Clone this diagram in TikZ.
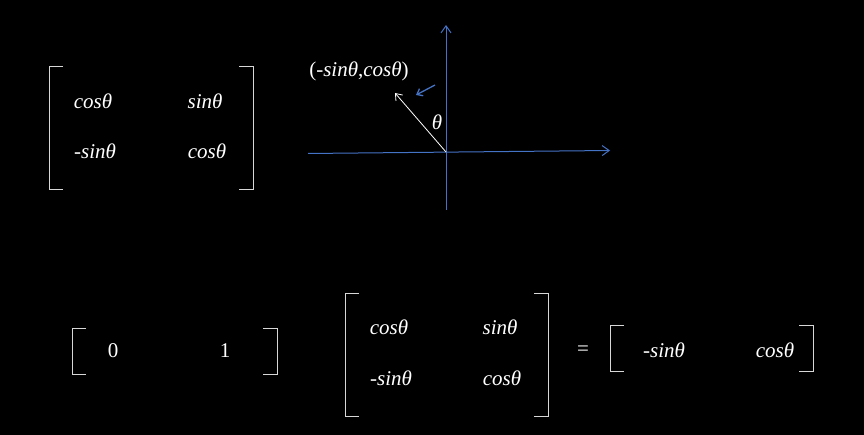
\documentclass[tikz,border=0pt]{standalone}
\usepackage{fontspec}
\setmainfont{Liberation Serif}
\usetikzlibrary{arrows.meta,positioning,calc}
\definecolor{axisblue}{RGB}{68,114,196}
\definecolor{brackgray}{RGB}{215,215,215}

\begin{document}
\begin{tikzpicture}[x=1pt, y=-1pt,
    entry/.style={white, inner sep=0pt, font=\fontsize{21}{24}\selectfont\itshape},
    num/.style={white, inner sep=0pt, font=\fontsize{21}{24}\selectfont},
    brack/.style={brackgray, line width=1pt},
    axis/.style={axisblue, line width=1pt, -{Straight Barb[length=7pt,width=10pt]}},
    vec/.style={white, line width=0.8pt, -{Straight Barb[length=6pt,width=9pt]}}]

  \fill[black] (0,0) rectangle (864,435);

	\def\s{14};

	%brackets: left x / right x / top y / bottom y
    \foreach \xl/\xr/\yt/\yb in {49/253/67/190, 72/277/328/374, 345/548/294/416, 610/813/326/371}{
         \draw[brack] (\xl+\s,\yt) -- (\xl,\yt) -- (\xl,\yb) -- (\xl+\s,\yb);
         \draw[brack] (\xr-\s,\yt) -- (\xr,\yt) -- (\xr,\yb) -- (\xr-\s,\yb);
    }

	%matrix entries
    \foreach \x/\y/\txt/\name in {93/101/cosθ/a11, 205/101/sinθ/a12, 95/151/-sinθ/a21, 207/151/cosθ/a22,
                                  389/327/cosθ/b11, 500/327/sinθ/b12, 391/378/-sinθ/b21, 502/378/cosθ/b22,
                                  664/350/-sinθ/c1, 775/350/cosθ/c2}{
         \node[entry] (\name) at (\x,\y) {\txt};
    }
    \node[num] (v1) at (113,351) {0};
    \node[num] (v2) at (225,351) {1};
    \node[num] (eq) at (583,351) {=};

	%axes
  \coordinate (O) at (446,152);
  \coordinate (xl) at (308,153.5);
  \coordinate (xr) at (610,150.5);
  \coordinate (yb) at (446,210);
  \coordinate (yt) at (446,25);
  \draw[axis] (xl) -- (xr);
  \draw[axis] (yb) -- (yt);

  \coordinate (P) at (395,93);
  \draw[vec] (O) -- (P);
  \node[white, inner sep=0pt, font=\fontsize{21}{24}\selectfont] (lbl) at (359,71) {(-\textit{sinθ},\textit{cosθ})};
  \node[entry] (th) at (437,122) {θ};

  \coordinate (m1) at (435,85);
  \coordinate (m2) at (416,95);
  \draw[axisblue, line width=1.3pt, -{Straight Barb[length=5pt,width=8pt]}] (m1) -- (m2);

\end{tikzpicture}
\end{document}
